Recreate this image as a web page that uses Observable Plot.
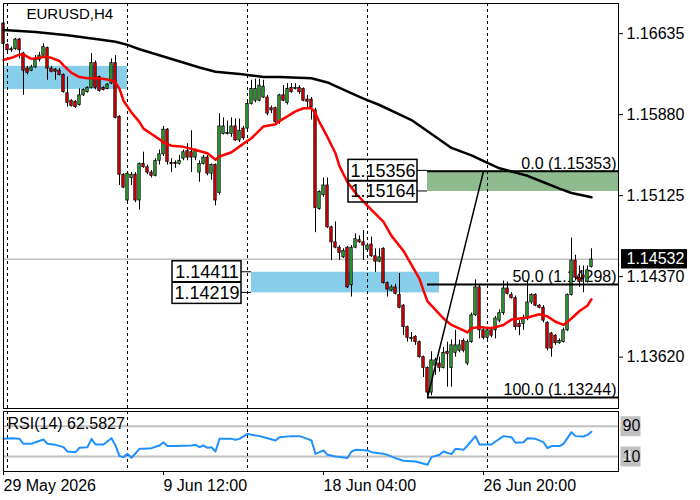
<!DOCTYPE html>
<html><head><meta charset="utf-8">
<script src="https://cdn.jsdelivr.net/npm/d3@7"></script>
<script src="https://cdn.jsdelivr.net/npm/@observablehq/plot@0.6"></script>
<style>
body{margin:0;background:#fff;}
#chart{position:relative;width:700px;height:500px;}
#chart svg{display:block;overflow:visible;}
</style></head><body><div id="chart"></div>
<script>
// ---------- data (EURUSD H4, bar index 0 = 29 May 2026 00:00) ----------
const symbolTitle = "EURUSD,H4";
const opens = [1.1673,1.1653,1.1649,1.1649,1.1658,1.1645,1.1631,1.1629,1.1632,1.1639,
 1.1643,1.1650,1.1631,1.1630,1.1629,1.1625,1.1608,1.1601,1.1600,1.1597,
 1.1606,1.1609,1.1613,1.1636,1.1623,1.1613,1.1612,1.1617,1.1636,1.1586,
 1.1532,1.1508,1.1529,1.1532,1.1508,1.1542,1.1539,1.1534,1.1531,1.1545,
 1.1551,1.1574,1.1543,1.1543,1.1542,1.1547,1.1554,1.1553,1.1548,1.1534,
 1.1542,1.1548,1.1533,1.1541,1.1515,1.1570,1.1570,1.1570,1.1577,1.1564,
 1.1575,1.1575,1.1598,1.1601,1.1601,1.1604,1.1604,1.1594,1.1594,1.1581,
 1.1606,1.1599,1.1613,1.1612,1.1613,1.1612,1.1602,1.1602,1.1592,1.1500,
 1.1513,1.1522,1.1483,1.1469,1.1464,1.1455,1.1464,1.1429,1.1464,1.1471,
 1.1469,1.1462,1.1467,1.1456,1.1451,1.1463,1.1431,1.1424,1.1427,1.1420,
 1.1410,1.1390,1.1380,1.1381,1.1376,1.1362,1.1352,1.1329,1.1354,1.1356,
 1.1352,1.1367,1.1352,1.1366,1.1368,1.1377,1.1356,1.1376,1.1401,1.1427,
 1.1387,1.1380,1.1387,1.1387,1.1396,1.1403,1.1426,1.1420,1.1417,1.1393,
 1.1393,1.1398,1.1413,1.1420,1.1410,1.1408,1.1394,1.1384,1.1382,1.1375,
 1.1376,1.1387,1.1420,1.1452,1.1436,1.1438,1.1432,1.1446];
const highs = [1.1675,1.1654,1.1651,1.1659,1.1659,1.1646,1.1633,1.1634,1.1643,1.1646,
 1.1654,1.1651,1.1633,1.1631,1.1631,1.1626,1.1623,1.1602,1.1601,1.1612,
 1.1612,1.1614,1.1645,1.1638,1.1624,1.1614,1.1617,1.1640,1.1643,1.1587,
 1.1533,1.1534,1.1534,1.1534,1.1543,1.1553,1.1541,1.1536,1.1547,1.1555,
 1.1577,1.1575,1.1547,1.1545,1.1550,1.1555,1.1561,1.1573,1.1556,1.1545,
 1.1550,1.1550,1.1542,1.1542,1.1589,1.1585,1.1582,1.1585,1.1584,1.1584,
 1.1577,1.1601,1.1620,1.1621,1.1621,1.1620,1.1606,1.1596,1.1595,1.1607,
 1.1615,1.1617,1.1617,1.1617,1.1615,1.1613,1.1606,1.1604,1.1594,1.1517,
 1.1529,1.1529,1.1484,1.1488,1.1466,1.1463,1.1465,1.1466,1.1477,1.1475,
 1.1480,1.1468,1.1474,1.1463,1.1463,1.1464,1.1432,1.1429,1.1430,1.1440,
 1.1411,1.1391,1.1385,1.1382,1.1377,1.1363,1.1353,1.1367,1.1361,1.1362,
 1.1371,1.1376,1.1378,1.1387,1.1378,1.1379,1.1378,1.1403,1.1434,1.1429,
 1.1389,1.1389,1.1390,1.1400,1.1406,1.1433,1.1432,1.1422,1.1419,1.1396,
 1.1401,1.1434,1.1421,1.1421,1.1411,1.1410,1.1395,1.1385,1.1383,1.1379,
 1.1389,1.1421,1.1473,1.1457,1.1447,1.1447,1.1447,1.1463];
const lows = [1.1653,1.1647,1.1646,1.1648,1.1640,1.1606,1.1625,1.1628,1.1631,1.1637,
 1.1642,1.1620,1.1627,1.1620,1.1624,1.1608,1.1595,1.1595,1.1594,1.1596,
 1.1605,1.1608,1.1612,1.1611,1.1609,1.1610,1.1611,1.1616,1.1584,1.1522,
 1.1519,1.1507,1.1522,1.1506,1.1499,1.1538,1.1532,1.1529,1.1530,1.1541,
 1.1549,1.1541,1.1534,1.1538,1.1541,1.1545,1.1545,1.1534,1.1545,1.1525,
 1.1541,1.1531,1.1527,1.1503,1.1513,1.1569,1.1569,1.1567,1.1563,1.1562,
 1.1564,1.1573,1.1597,1.1599,1.1600,1.1603,1.1587,1.1589,1.1578,1.1579,
 1.1600,1.1597,1.1608,1.1611,1.1607,1.1600,1.1594,1.1583,1.1478,1.1499,
 1.1511,1.1482,1.1452,1.1463,1.1452,1.1454,1.1426,1.1418,1.1463,1.1468,
 1.1452,1.1461,1.1455,1.1441,1.1450,1.1430,1.1418,1.1423,1.1420,1.1407,
 1.1382,1.1376,1.1376,1.1373,1.1361,1.1343,1.1324,1.1326,1.1345,1.1348,
 1.1351,1.1334,1.1334,1.1362,1.1366,1.1366,1.1354,1.1375,1.1400,1.1379,
 1.1378,1.1378,1.1380,1.1379,1.1394,1.1401,1.1420,1.1416,1.1387,1.1382,
 1.1387,1.1396,1.1411,1.1409,1.1407,1.1394,1.1368,1.1362,1.1373,1.1374,
 1.1375,1.1386,1.1419,1.1433,1.1427,1.1422,1.1431,1.1445];
const closes = [1.1654,1.1648,1.1648,1.1658,1.1648,1.1629,1.1627,1.1632,1.1639,1.1643,
 1.1651,1.1631,1.1628,1.1628,1.1625,1.1609,1.1599,1.1596,1.1595,1.1606,
 1.1611,1.1613,1.1636,1.1613,1.1610,1.1611,1.1616,1.1636,1.1585,1.1532,
 1.1520,1.1533,1.1532,1.1508,1.1542,1.1539,1.1534,1.1531,1.1545,1.1551,
 1.1574,1.1544,1.1542,1.1542,1.1545,1.1553,1.1548,1.1548,1.1555,1.1542,
 1.1548,1.1533,1.1541,1.1508,1.1577,1.1577,1.1571,1.1577,1.1564,1.1573,
 1.1566,1.1598,1.1612,1.1612,1.1615,1.1614,1.1589,1.1592,1.1581,1.1606,
 1.1601,1.1612,1.1609,1.1613,1.1609,1.1601,1.1600,1.1595,1.1501,1.1516,
 1.1522,1.1483,1.1469,1.1464,1.1459,1.1461,1.1427,1.1464,1.1472,1.1469,
 1.1466,1.1466,1.1456,1.1451,1.1455,1.1431,1.1425,1.1427,1.1421,1.1408,
 1.1390,1.1380,1.1379,1.1376,1.1362,1.1352,1.1329,1.1359,1.1359,1.1352,
 1.1366,1.1365,1.1373,1.1373,1.1373,1.1368,1.1376,1.1401,1.1427,1.1387,
 1.1380,1.1387,1.1382,1.1398,1.1403,1.1426,1.1421,1.1417,1.1390,1.1390,
 1.1398,1.1413,1.1420,1.1410,1.1408,1.1396,1.1370,1.1370,1.1375,1.1377,
 1.1387,1.1420,1.1452,1.1436,1.1432,1.1436,1.1443,1.1453];

// moving averages (bar index, value)
const maFastBars = [0,2,4,5,7,9,10,12,14,15,17,19,21,24,27,28,29,30,32,34,35,37,39,40,42,45,48,51,53,54,57,60,62,65,68,69,73,75,77,78,79,81,83,84,86,88,91,95,97,100,102,104,105,106,108,110,112,115,116,117,119,122,125,127,129,131,134,136,138,140,142,144,146,147];
const maFastVals = [1.1639,1.1641,1.1644,1.1644,1.1640,1.1641,1.1642,1.1641,1.1638,1.1634,1.1627,1.1623,1.1622,1.1622,1.1620,1.1618,1.1612,1.1601,1.1590,1.1581,1.1575,1.1570,1.1565,1.1562,1.1559,1.1558,1.1555,1.1552,1.1546,1.1549,1.1553,1.1561,1.1566,1.1577,1.1579,1.1582,1.1591,1.1594,1.1594,1.1589,1.1581,1.1567,1.1552,1.1540,1.1525,1.1515,1.1503,1.1488,1.1475,1.1461,1.1448,1.1435,1.1424,1.1414,1.1406,1.1398,1.1392,1.1387,1.1385,1.1389,1.1390,1.1389,1.1392,1.1397,1.1398,1.1399,1.1402,1.1400,1.1395,1.1392,1.1398,1.1405,1.1410,1.1416];
const maSlowBars = [0,4,8,16,24,28,31,34,41,49,53,59,61,65,69,77,81,84,90,94,102,107,112,117,121,124,128,131,135,139,142,147];
const maSlowVals = [1.1667,1.1666,1.1665,1.1662,1.1658,1.1656,1.1653,1.1649,1.1641,1.1632,1.1628,1.1626,1.1625,1.1623,1.1623,1.1622,1.1618,1.1613,1.1603,1.1597,1.1583,1.1570,1.1557,1.1550,1.1543,1.1538,1.1534,1.1531,1.1525,1.1519,1.1515,1.1511];

// RSI(14)
const rsiBars = [0,2,4,5,7,8,10,11,13,15,16,18,19,21,22,23,25,27,28,29,30,31,32,34,35,37,39,40,41,43,47,48,49,50,51,52,53,54,57,58,59,61,62,64,66,68,69,72,74,76,77,78,79,80,81,83,86,87,88,91,92,95,96,98,100,103,106,107,109,110,112,113,115,116,118,119,122,123,125,127,128,130,131,133,135,136,137,139,140,142,143,145,146,147];
const rsiVals = [53.3,54.2,53.3,46.7,46.7,48.9,52.5,46.7,45.4,42.4,36.6,35.7,41.5,42.3,53.3,45.9,45.9,54.2,44.5,30.5,29.2,33.5,28.3,40.1,40.1,41.0,44.5,48.9,43.7,43.7,44.5,45.4,42.4,44.5,41.5,42.3,36.6,53.3,53.3,52.0,53.3,59.9,58.6,56.9,54.2,51.1,55.5,56.9,56.9,53.3,51.1,33.5,35.7,37.9,32.2,30.0,28.0,36.6,38.8,38.0,35.7,33.5,32.2,27.8,24.3,23.4,19.0,29.2,32.2,36.6,33.1,40.1,38.8,44.5,56.9,45.9,45.9,49.8,56.9,55.5,48.1,48.9,54.2,53.3,48.9,41.0,43.7,43.7,46.7,62.1,56.9,56.4,58.6,62.6];
const rsiLast = 62.5827;
const rsiLevels = [70, 30];
const rsiScaleLabels = ["90", "10"];

// axes
const priceTicks = [1.16635, 1.15880, 1.15125, 1.14370, 1.13620];
const lastPrice = 1.14532;
const xTickBars = [0, 40, 80, 120];
const xTickLabels = ["29 May 2026", "9 Jun 12:00", "18 Jun 04:00", "26 Jun 20:00"];
const gridBars = [1, 31, 61, 91, 121];

// drawn objects
const zoneStart = [0, 62, 106];
const zoneEnd = [31, 109, null];           // null = to the right edge
const zoneLow = [1.16115, 1.14219, 1.15164];
const zoneHigh = [1.16330, 1.14411, 1.15356];
const zoneColor = ["#87ceeb", "#87ceeb", "#8fbc8f"];
const zoneLabeled = [false, true, true];
const fibPct = ["0.0", "50.0", "100.0"];
const fibPrice = [1.15353, 1.14298, 1.13244];
const fibFromBar = 106, fibToBar = 120;

// ---------- build ----------
const FONT = "'Liberation Sans', Arial, sans-serif";
const xMax = 153.75;
const bars = d3.range(opens.length);
const UP = "#35b235", DOWN = "#f00000";
const zones = zoneStart.map((s, k) => ({x1: s, x2: zoneEnd[k] ?? xMax, lo: zoneLow[k], hi: zoneHigh[k], fill: zoneColor[k], labeled: zoneLabeled[k]}));
const zoneLabels = zones.filter(z => z.labeled).flatMap(z => [{x: z.x1, p: z.hi}, {x: z.x1, p: z.lo}]);
const fibs = fibPct.map((p, k) => ({pct: p, price: fibPrice[k], x1: fibFromBar, x2: xMax}));
const fibLine = [{i: fibFromBar, p: d3.min(fibPrice)}, {i: fibToBar, p: d3.max(fibPrice)}];

const main = Plot.plot({
  width: 700, height: 410,
  marginLeft: 3, marginRight: 82, marginTop: 3, marginBottom: 2,
  x: {domain: [0, xMax], axis: null},
  y: {domain: [1.131414, 1.16916]},
  style: {fontFamily: FONT, fontSize: "16px", color: "black", background: "white", overflow: "visible"},
  marks: [
    Plot.rect(zones, {x1: "x1", x2: "x2", y1: "lo", y2: "hi", fill: "fill"}),
    Plot.ruleY([lastPrice], {stroke: "#c0c0c0", strokeWidth: 1.5}),
    Plot.ruleX(gridBars, {stroke: "black", strokeWidth: 1, strokeDasharray: "3,3"}),
    Plot.text(fibs, {y: "price", text: d => `${d.pct} (${d.price.toFixed(5)})`, frameAnchor: "right", dx: -2, dy: -2, textAnchor: "end", lineAnchor: "bottom", fontSize: 16}),
    Plot.ruleX(bars, {x: i => i, y1: i => lows[i], y2: i => highs[i], stroke: "black", strokeWidth: 1}),
    Plot.rect(bars, {x1: i => i - 0.3, x2: i => i + 0.3, y1: i => opens[i], y2: i => closes[i],
      fill: i => closes[i] >= opens[i] ? UP : DOWN, stroke: "black", strokeWidth: 0.8}),
    Plot.ruleY(fibs, {y: "price", x1: "x1", x2: "x2", stroke: "black", strokeWidth: 2}),
    Plot.line(maSlowBars, {x: d => d, y: (d, k) => maSlowVals[k], stroke: "black", strokeWidth: 2.5}),
    Plot.line(maFastBars, {x: d => d, y: (d, k) => maFastVals[k], stroke: "#ff0000", strokeWidth: 2.5}),
    Plot.line(fibLine, {x: "i", y: "p", stroke: "black", strokeWidth: 1.5}),
    Plot.text(zoneLabels, {x: "x", y: "p", text: d => d.p.toFixed(5), dx: -44.5, fontSize: 18, textAnchor: "middle"}),
    Plot.text([symbolTitle], {frameAnchor: "top-left", dx: 23, dy: 5, lineAnchor: "top", textAnchor: "start", fontSize: 15}),
    Plot.axisY({anchor: "right", ticks: priceTicks, tickFormat: d => d.toFixed(5), tickSize: 4, tickPadding: 4, fontSize: 16, label: null}),
    Plot.text([lastPrice], {y: d => d, text: d => d.toFixed(5), frameAnchor: "right", dx: 8, textAnchor: "start", fill: "white", fontSize: 16}),
    Plot.frame({stroke: "black"})
  ]
});

// boxes derived from the plot's own scales
{
  const xs = main.scale("x"), ys = main.scale("y");
  const svg = d3.select(main);
  const yp = ys.apply(lastPrice), xr = xs.apply(xMax);
  svg.insert("rect", ":first-child").attr("x", xr + 3).attr("y", yp - 9.7).attr("width", 66).attr("height", 19.4).attr("fill", "black");
  const g = svg.append("g").attr("fill", "none").attr("stroke", "black");
  zones.filter(z => z.labeled).forEach(z => {
    const x0 = xs.apply(z.x1), bx = x0 - 10, yh = ys.apply(z.hi), yl = ys.apply(z.lo);
    const top = yh - 11, bot = yl + 11, mid = (yh + yl) / 2;
    g.append("rect").attr("x", bx - 69).attr("y", top).attr("width", 69).attr("height", bot - top).attr("stroke-width", 1.5);
    g.append("line").attr("x1", bx - 69).attr("x2", bx).attr("y1", mid).attr("y2", mid).attr("stroke-width", 2);
    g.append("line").attr("x1", bx).attr("x2", x0).attr("y1", yh).attr("y2", yh);
    g.append("line").attr("x1", bx).attr("x2", x0).attr("y1", yl).attr("y2", yl);
  });
}

const lower = Plot.plot({
  width: 700, height: 90,
  marginLeft: 3, marginRight: 82, marginTop: 1, marginBottom: 29,
  x: {domain: [0, xMax]},
  y: {domain: [10.2, 89.41], axis: null},
  style: {fontFamily: FONT, fontSize: "16px", color: "black", background: "white", overflow: "visible"},
  marks: [
    Plot.ruleY(rsiLevels, {stroke: "#c0c0c0", strokeWidth: 2}),
    Plot.ruleX(gridBars, {stroke: "black", strokeWidth: 1, strokeDasharray: "3,3"}),
    Plot.line(rsiBars, {x: d => d, y: (d, k) => rsiVals[k], stroke: "#1e90ff", strokeWidth: 2}),
    Plot.text([`RSI(14) ${rsiLast}`], {frameAnchor: "top-left", dx: 4, dy: 6, lineAnchor: "top", textAnchor: "start", fontSize: 16}),
    Plot.dot(rsiLevels, {y: d => d, frameAnchor: "right", dx: 12, symbol: "square", r: 11.28, fill: "#c0c0c0"}),
    Plot.text(rsiLevels, {y: d => d, text: d => String(d), frameAnchor: "right", dx: 4, textAnchor: "start", fill: "#f4f4f4", fontSize: 16}),
    Plot.text(rsiLevels, {y: d => d, text: (d, k) => rsiScaleLabels[k], frameAnchor: "right", dx: 4, textAnchor: "start", fill: "black", fontSize: 16}),
    Plot.axisX({ticks: xTickBars, tickFormat: d => xTickLabels[xTickBars.indexOf(d)], tickSize: 4, tickPadding: 4, textAnchor: "start", fontSize: 16, label: null}),
    Plot.frame({stroke: "black"})
  ]
});

const root = document.getElementById("chart");
root.append(main, lower);
</script>
</body></html>
